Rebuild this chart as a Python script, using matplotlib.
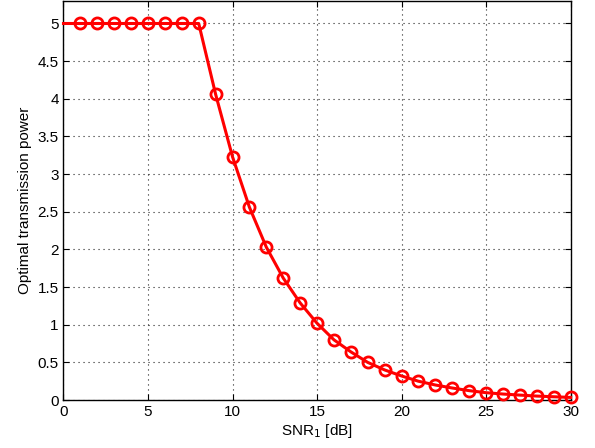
import matplotlib
matplotlib.use("Agg")
import matplotlib.pyplot as plt

snr_db = [0, 1, 2, 3, 4, 5, 6, 7, 8, 9, 10, 11, 12, 13, 14, 15, 16, 17, 18, 19, 20,
          21, 22, 23, 24, 25, 26, 27, 28, 29, 30]
power = [5, 5, 5, 5, 5, 5, 5, 5, 5, 4.06, 3.23, 2.56, 2.03, 1.62, 1.29, 1.02, 0.80,
         0.64, 0.50, 0.40, 0.32, 0.25, 0.20, 0.16, 0.125, 0.098, 0.08, 0.066, 0.053,
         0.044, 0.035]
xticks = [0, 5, 10, 15, 20, 25, 30]
yticks = [0, 0.5, 1, 1.5, 2, 2.5, 3, 3.5, 4, 4.5, 5]

plt.rcParams['font.family'] = ['Liberation Sans', 'DejaVu Sans']
fig = plt.figure(figsize=(5.95, 4.48), dpi=100)
ax = fig.add_axes([0.1067, 0.107, 0.959 - 0.1067, 0.998 - 0.107])

ax.plot(snr_db, power, color='#ff0000', linewidth=2.2, marker='o', markersize=8,
        markerfacecolor='none', markeredgewidth=2, markevery=list(range(1, len(snr_db))),
        clip_on=False, zorder=3)

ax.set_xlim(0, 30)
ax.set_ylim(0, 5.3)
ax.set_xticks(xticks)
ax.set_yticks(yticks)
ax.set_yticklabels(['0', '0.5', '1', '1.5', '2', '2.5', '3', '3.5', '4', '4.5', '5'])
ax.tick_params(direction='in', top=True, right=True, labelsize=11, length=4, width=0.8)
ax.grid(True, linestyle=(0, (1, 3.5)), color='#222222', linewidth=0.8)
for s in ax.spines.values():
    s.set_linewidth(1.0)
ax.set_xlabel('SNR$_1$ [dB]', fontsize=11, labelpad=2)
ax.set_ylabel('Optimal transmission power', fontsize=11)

fig.savefig('out.png', dpi=100)
